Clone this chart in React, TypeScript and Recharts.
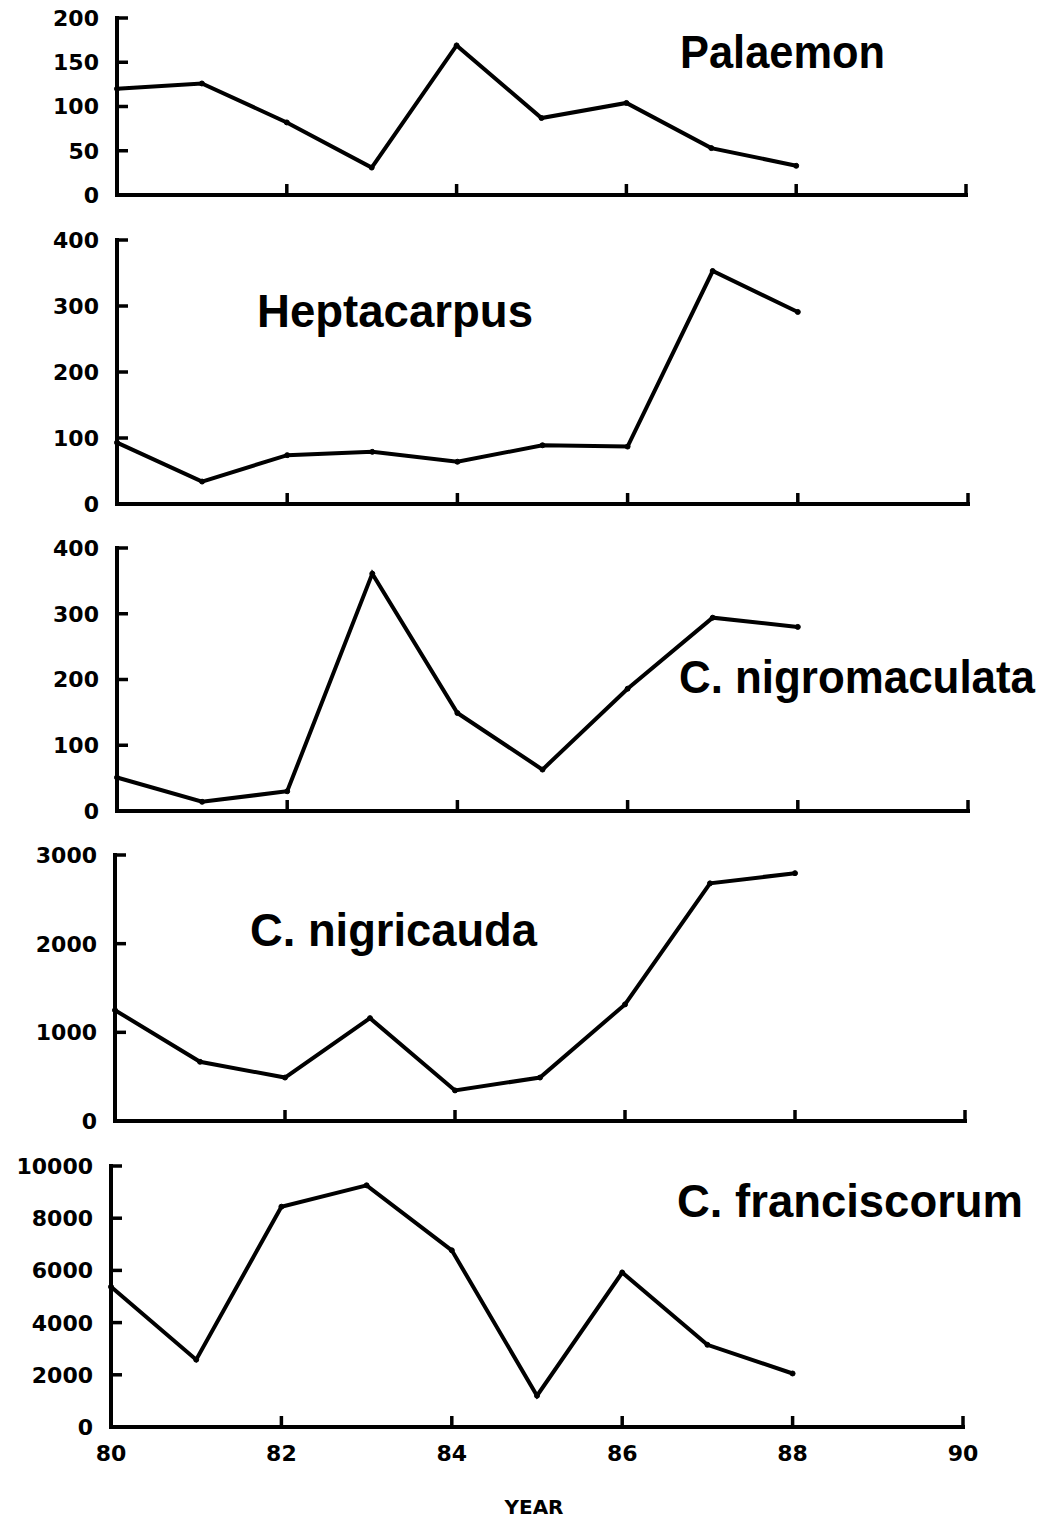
import { LineChart, Line, XAxis, YAxis } from "recharts"

const W = 1053
const H = 1519

// survey years (19xx) and annual abundance per species
const YEARS = [80, 81, 82, 83, 84, 85, 86, 87, 88]
const X_TICKS = [80, 82, 84, 86, 88, 90]

const PALAEMON = [120, 126, 82, 31, 169, 87, 104, 53, 33]
const HEPTACARPUS = [93, 34, 74, 79, 64, 89, 87, 353, 291]
const NIGROMACULATA = [51, 14, 30, 361, 149, 63, 186, 294, 280]
const NIGRICAUDA = [1250, 668, 490, 1160, 345, 490, 1315, 2680, 2795]
const FRANCISCORUM = [5370, 2580, 8440, 9260, 6770, 1200, 5920, 3150, 2050]

const TICKS_200 = [0, 50, 100, 150, 200]
const TICKS_400 = [0, 100, 200, 300, 400]
const TICKS_3000 = [0, 1000, 2000, 3000]
const TICKS_10000 = [0, 2000, 4000, 6000, 8000, 10000]

const TICK_FONT = { fontFamily: "DejaVu Sans", fontWeight: "bold", fontSize: 22, fill: "#000" }
const TITLE_FONT = { fontFamily: "Liberation Sans", fontWeight: "bold", fontSize: 46, fill: "#000" }

interface PanelCfg {
  name: string
  values: number[]
  ticks: number[]
  top: number
  bottom: number
  left: number
  right: number
  titleX: number
  titleY: number
  titleW: number
  last?: boolean
}

const PANELS: PanelCfg[] = [
  { name: "Palaemon", values: PALAEMON, ticks: TICKS_200, top: 18, bottom: 195, left: 117, right: 966, titleX: 680, titleY: 68, titleW: 205 },
  { name: "Heptacarpus", values: HEPTACARPUS, ticks: TICKS_400, top: 240, bottom: 504, left: 117, right: 968, titleX: 257, titleY: 327, titleW: 276 },
  { name: "C. nigromaculata", values: NIGROMACULATA, ticks: TICKS_400, top: 548, bottom: 811, left: 117, right: 968, titleX: 679, titleY: 693, titleW: 356 },
  { name: "C. nigricauda", values: NIGRICAUDA, ticks: TICKS_3000, top: 855, bottom: 1121, left: 115, right: 965, titleX: 250, titleY: 946, titleW: 287 },
  { name: "C. franciscorum", values: FRANCISCORUM, ticks: TICKS_10000, top: 1166, bottom: 1427, left: 111, right: 963, titleX: 677, titleY: 1217, titleW: 346, last: true },
]

function XTick(props: any) {
  const { x, y, payload, showLabel } = props
  return (
    <g>
      <line x1={x} x2={x} y1={y} y2={y - 11} stroke="#000" strokeWidth={3.5} />
      {showLabel && (
        <text x={x} y={y + 26} dy="0.36em" textAnchor="middle" {...TICK_FONT}>{payload.value}</text>
      )}
    </g>
  )
}

function YTick(props: any) {
  const { x, y, payload } = props
  return (
    <g>
      <line x1={x} x2={x + 11} y1={y} y2={y} stroke="#000" strokeWidth={3.5} />
      <text x={x - 18} y={y} dy="0.36em" textAnchor="end" {...TICK_FONT}>{payload.value}</text>
    </g>
  )
}

function Panel({ cfg }: { cfg: PanelCfg }) {
  const pad = 45
  const data = YEARS.map((year, i) => ({ year, v: cfg.values[i] }))
  const axisLine = { stroke: "#000", strokeWidth: 4, strokeLinecap: "square" as const }
  return (
    <div style={{ position: "absolute", left: 0, top: cfg.top - pad }}>
      <LineChart
        width={W}
        height={cfg.bottom - cfg.top + 2 * pad}
        data={data}
        margin={{ top: pad, bottom: 0, left: 0, right: W - cfg.right }}
      >
        <XAxis
          dataKey="year"
          type="number"
          domain={[80, 90]}
          ticks={X_TICKS}
          interval={0}
          height={pad}
          tickSize={0}
          tickMargin={0}
          tickLine={false}
          axisLine={axisLine}
          tick={<XTick showLabel={!!cfg.last} />}
        />
        <YAxis
          type="number"
          domain={[0, cfg.ticks[cfg.ticks.length - 1]]}
          ticks={cfg.ticks}
          interval={0}
          width={cfg.left}
          tickSize={0}
          tickMargin={0}
          tickLine={false}
          axisLine={axisLine}
          tick={<YTick />}
        />
        <Line
          dataKey="v"
          type="linear"
          stroke="#000"
          strokeWidth={4}
          dot={{ r: 2.5, fill: "#000", stroke: "#000", strokeWidth: 1 }}
          isAnimationActive={false}
        />
      </LineChart>
    </div>
  )
}

export default function App() {
  return (
    <div style={{ position: "absolute", left: 0, top: 0, width: W, height: H, background: "#fff" }}>
      {PANELS.map(p => <Panel key={p.name} cfg={p} />)}
      <svg width={W} height={H} style={{ position: "absolute", left: 0, top: 0, pointerEvents: "none" }}>
        {PANELS.map(p => (
          <text key={p.name} x={p.titleX} y={p.titleY} textLength={p.titleW} lengthAdjust="spacingAndGlyphs" {...TITLE_FONT}>
            {p.name}
          </text>
        ))}
        <text x={534} y={1514} textAnchor="middle" fontFamily="DejaVu Sans" fontWeight="bold" fontSize={20} fill="#000">YEAR</text>
      </svg>
    </div>
  )
}
